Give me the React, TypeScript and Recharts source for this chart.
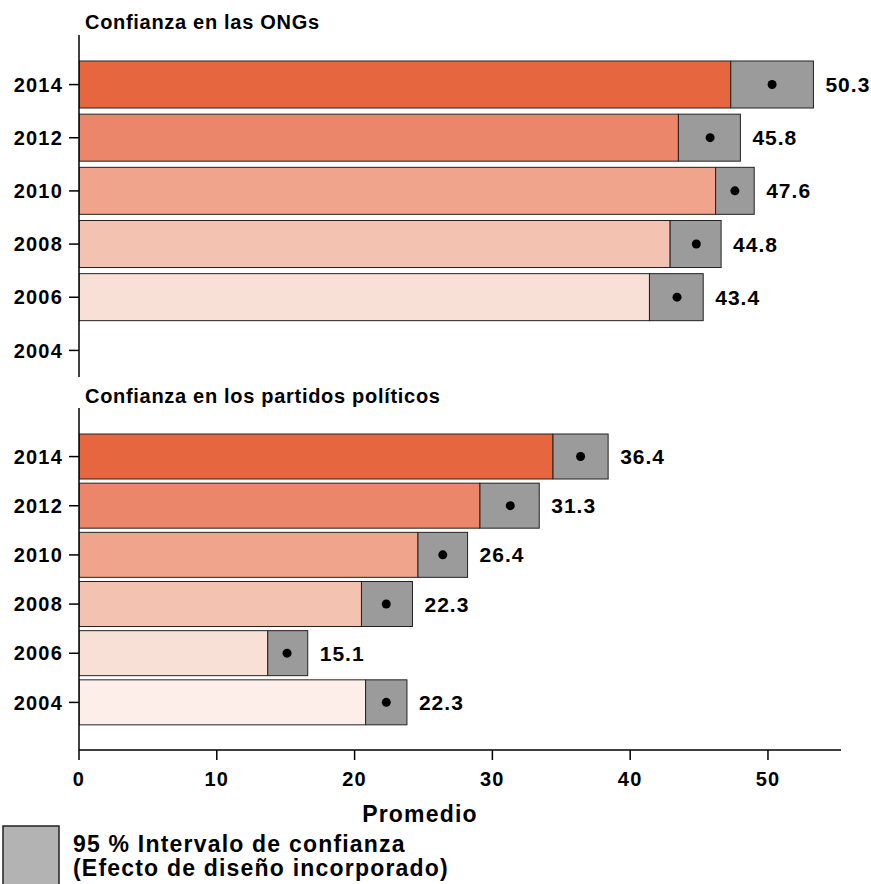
import { BarChart, Bar, XAxis, YAxis, Cell, LabelList, Label } from 'recharts';

const years = ['2014', '2012', '2010', '2008', '2006', '2004'];
const yearColors = ['#E5663F', '#EB866A', '#F0A48C', '#F4C2B1', '#F9E0D7', '#FDEEEA'];

// Confianza en las ONGs (no hay dato para 2004)
const ngoMean = [50.3, 45.8, 47.6, 44.8, 43.4, null];
const ngoLow = [47.3, 43.5, 46.2, 42.9, 41.4, null];
const ngoHigh = [53.3, 48.0, 49.0, 46.6, 45.3, null];

// Confianza en los partidos políticos
const partyMean = [36.4, 31.3, 26.4, 22.3, 15.1, 22.3];
const partyLow = [34.4, 29.1, 24.6, 20.5, 13.7, 20.8];
const partyHigh = [38.4, 33.4, 28.2, 24.2, 16.6, 23.8];

const xTicks = [0, 10, 20, 30, 40, 50];

const FONT = '"Liberation Sans", Arial, sans-serif';

function buildRows(mean: (number | null)[], low: (number | null)[], high: (number | null)[]) {
  return years.map((year, i) => ({
    year,
    mean: mean[i],
    low: low[i],
    ci: high[i] != null && low[i] != null ? +(high[i]! - low[i]!).toFixed(2) : null,
  }));
}

const ngoRows = buildRows(ngoMean, ngoLow, ngoHigh);
const partyRows = buildRows(partyMean, partyLow, partyHigh);

// gray confidence box with the mean dot inside
const CiShape = (props: any) => {
  const { x, y, width, height, payload } = props;
  if (!payload || payload.mean == null || !width) return null;
  const cx = x + (width * (payload.mean - payload.low)) / payload.ci;
  return (
    <g>
      <rect x={x} y={y} width={width} height={height} fill="#9B9B9B" stroke="#222" strokeWidth={1} />
      <circle cx={cx} cy={y + height / 2} r={4.5} fill="#000" />
    </g>
  );
};

const ValueLabel = (props: any) => {
  const { x, y, width, height, value } = props;
  if (value == null) return null;
  return (
    <text
      x={x + width + 12}
      y={y + height / 2 + 7.5}
      fontFamily={FONT}
      fontSize={21}
      fontWeight="bold"
      letterSpacing={1}
      fill="#000"
    >
      {Number(value).toFixed(1)}
    </text>
  );
};

const tickStyle = { fill: '#000', fontSize: 20, fontWeight: 'bold', fontFamily: FONT, letterSpacing: 1.2 };

function Panel({ rows, height, padTop, padBottom, barSize, showX }: any) {
  return (
    <BarChart
      width={871}
      height={height}
      data={rows}
      layout="vertical"
      margin={{ top: 0, right: 30, bottom: 0, left: 0 }}
      barSize={barSize}
    >
      <XAxis
        type="number"
        domain={[0, 55.3]}
        ticks={xTicks}
        hide={!showX}
        allowDataOverflow
        tickSize={10}
        tickMargin={12}
        height={82}
        axisLine={{ stroke: '#000', strokeWidth: 1.5 }}
        tickLine={{ stroke: '#000', strokeWidth: 1.5 }}
        tick={tickStyle}
      >
        {showX && (
          <Label
            value="Promedio"
            position="insideBottom"
            offset={10}
            dx={-40}
            style={{ fill: '#000', fontSize: 23, fontWeight: 'bold', fontFamily: FONT, letterSpacing: 1.2 }}
          />
        )}
      </XAxis>
      <YAxis
        type="category"
        dataKey="year"
        width={79}
        padding={{ top: padTop, bottom: padBottom }}
        tickSize={10}
        tickMargin={6}
        axisLine={{ stroke: '#000', strokeWidth: 1.5 }}
        tickLine={{ stroke: '#000', strokeWidth: 1.5 }}
        tick={tickStyle}
        interval={0}
      />
      <Bar dataKey="low" stackId="a" stroke="#222" strokeWidth={1} isAnimationActive={false}>
        {rows.map((_: any, i: number) => (
          <Cell key={i} fill={yearColors[i]} />
        ))}
      </Bar>
      <Bar dataKey="ci" stackId="a" shape={<CiShape />} isAnimationActive={false}>
        <LabelList dataKey="mean" content={<ValueLabel />} />
      </Bar>
    </BarChart>
  );
}

export default function App() {
  const titleStyle = { fontFamily: FONT, fontSize: 20, fontWeight: 'bold', letterSpacing: 0.7 };
  const legendStyle = { fontFamily: FONT, fontSize: 23, fontWeight: 'bold', letterSpacing: 1.2 };
  return (
    <div style={{ position: 'absolute', left: 0, top: 0, width: 871, height: 884, background: '#fff', overflow: 'hidden' }}>
      <div style={{ position: 'absolute', left: 0, top: 35 }}>
        <Panel rows={ngoRows} height={342} padTop={23} padBottom={0} barSize={47} showX={false} />
      </div>
      <div style={{ position: 'absolute', left: 0, top: 408 }}>
        <Panel rows={partyRows} height={424} padTop={24} padBottom={23} barSize={45} showX />
      </div>
      <svg width={871} height={884} style={{ position: 'absolute', left: 0, top: 0, pointerEvents: 'none' }}>
        <text x={85} y={29} fill="#000" style={titleStyle}>Confianza en las ONGs</text>
        <text x={85} y={403} fill="#000" style={titleStyle}>Confianza en los partidos políticos</text>
        <rect x={3} y={826} width={56} height={64} fill="#B3B3B3" stroke="#222" strokeWidth={1.5} />
        <text x={73} y={852} fill="#000" style={legendStyle}>95 % Intervalo de confianza</text>
        <text x={73} y={876} fill="#000" style={legendStyle}>(Efecto de diseño incorporado)</text>
      </svg>
    </div>
  );
}
